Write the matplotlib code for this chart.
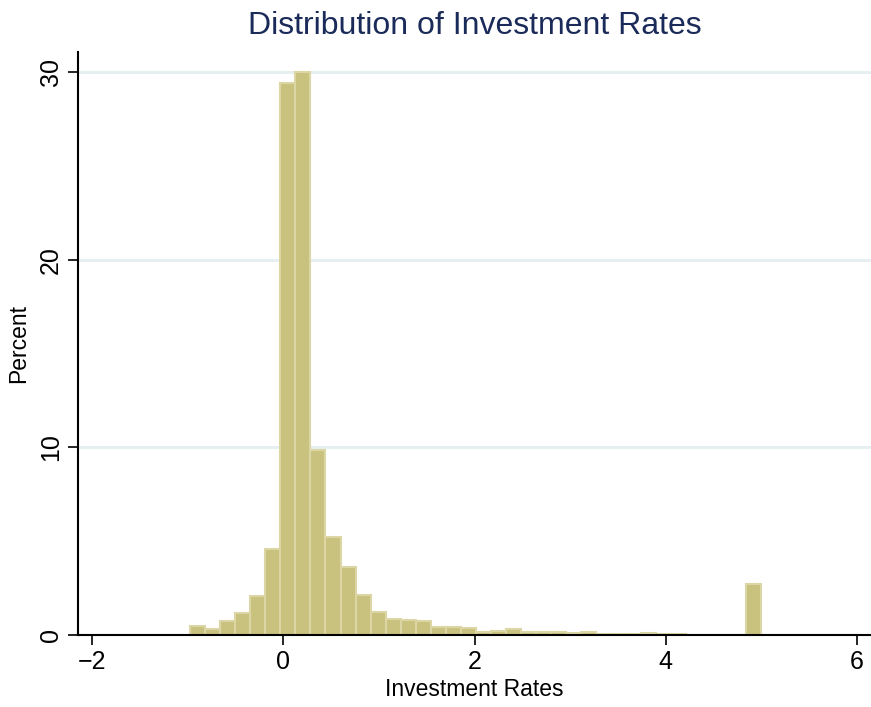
import numpy as np
import matplotlib.pyplot as plt

# histogram of investment rates (percent per bin)
bin_lo = -0.975
bin_hi = 5.0
pct = [0.48, 0.30, 0.75, 1.16, 2.09, 4.58, 29.4, 30.0, 9.85, 5.2,
       3.6, 2.13, 1.21, 0.85, 0.78, 0.73, 0.42, 0.42, 0.37, 0.16,
       0.23, 0.32, 0.16, 0.16, 0.16, 0.11, 0.16, 0.07, 0.07, 0.07,
       0.10, 0.07, 0.07, 0.0, 0.0, 0.0, 0.0, 2.72]
xticks = [-2, 0, 2, 4, 6]
yticks = [0, 10, 20, 30]

plt.rcParams['font.family'] = ['Liberation Sans', 'DejaVu Sans']

edges = np.linspace(bin_lo, bin_hi, len(pct) + 1)
width = edges[1] - edges[0]

fig = plt.figure(figsize=(8.71, 7.07), dpi=100)
ax = fig.add_axes([0.0896, 0.1018, 0.9104, 0.8246])

for y in yticks[1:]:
    ax.axhline(y, color='#e5eff0', lw=2, zorder=0)

ax.bar(edges[:-1], pct, width=width, align='edge',
       color='#c9c27f', edgecolor='#dbd6a4', linewidth=1.5, zorder=2)

ax.set_xlim(-2.15, 6.15)
ax.set_ylim(0, 31.06)
ax.set_xticks(xticks)
ax.set_xticklabels(['\u22122', '0', '2', '4', '6'])
ax.set_yticks(yticks)
ax.set_yticklabels([str(v) for v in yticks], rotation=90, va='center')

for s in ['top', 'right']:
    ax.spines[s].set_visible(False)
for s in ['left', 'bottom']:
    ax.spines[s].set_linewidth(1.5)
    ax.spines[s].set_color('black')
ax.tick_params(axis='both', length=7, width=1.2, colors='black', labelsize=18, pad=4)

ax.set_xlabel('Investment Rates', fontsize=16.5, labelpad=3)
ax.set_ylabel('Percent', fontsize=16.5, labelpad=6)
ax.set_title('Distribution of Investment Rates', fontsize=23, color='#1a2b59', pad=13)

plt.savefig('out.png', dpi=100)
